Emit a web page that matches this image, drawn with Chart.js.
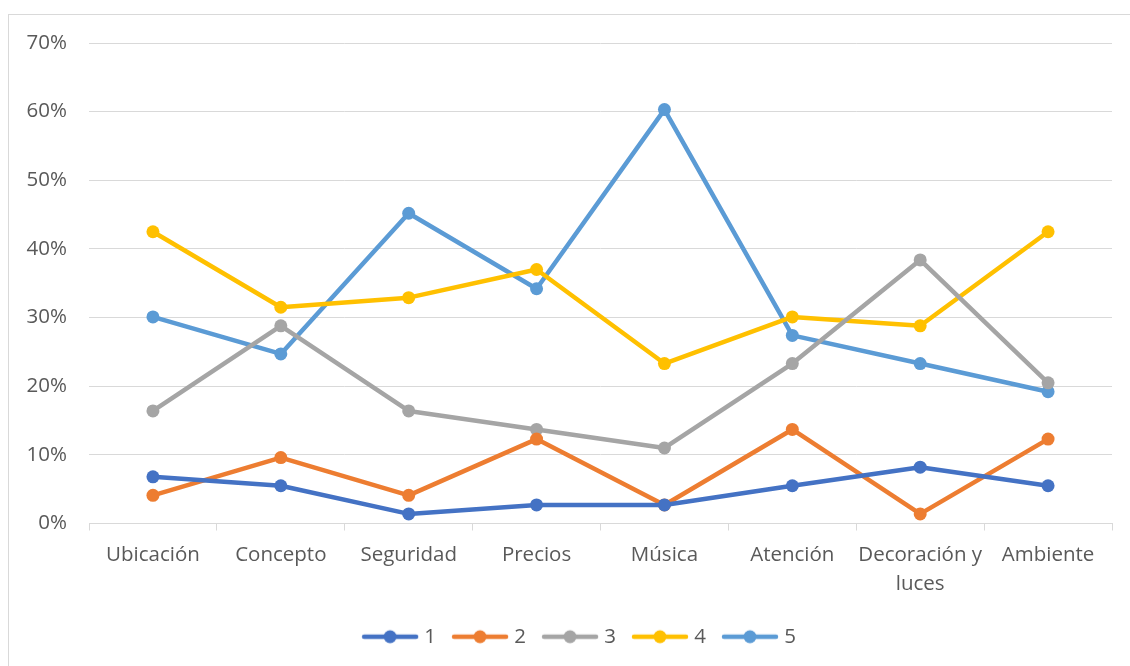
<!DOCTYPE html>
<html>
<head>
<meta charset="utf-8">
<script src="https://cdn.jsdelivr.net/npm/chart.js@4"></script>
<style>
html,body{margin:0;padding:0;background:#fff;}
#frame{position:absolute;left:8px;top:14px;width:1140px;height:680px;border:1px solid #d9d9d9;box-sizing:border-box;}
#wrap{position:absolute;left:0;top:0;width:1130px;height:666px;}
</style>
</head>
<body>
<div id="frame"></div>
<div id="wrap"><canvas id="c" width="1130" height="666"></canvas></div>
<script>
const categories = ['Ubicación','Concepto','Seguridad','Precios','Música','Atención',['Decoración y','luces'],'Ambiente'];
const seriesNames = ['1','2','3','4','5'];
const s1 = [6.8, 5.5, 1.4, 2.7, 2.7, 5.5, 8.2, 5.5];
const s2 = [4.1, 9.6, 4.1, 12.3, 2.7, 13.7, 1.4, 12.3];
const s3 = [16.4, 28.8, 16.4, 13.7, 11.0, 23.3, 38.4, 20.5];
const s4 = [42.5, 31.5, 32.9, 37.0, 23.3, 30.1, 28.8, 42.5];
const s5 = [30.1, 24.7, 45.2, 34.2, 60.3, 27.4, 23.3, 19.2];
const yTicks = [0,10,20,30,40,50,60,70];
const colors = ['#4472C4','#ED7D31','#A5A5A5','#FFC000','#5B9BD5'];

const FONT = 'Open Sans';
const TXT = '#595959';
const FS = 20.5;

function legendIcon(color){
  const cv = document.createElement('canvas');
  cv.width = 58; cv.height = 16;
  const g = cv.getContext('2d');
  g.strokeStyle = color; g.lineWidth = 4.5; g.lineCap = 'round';
  g.beginPath(); g.moveTo(3,8); g.lineTo(55,8); g.stroke();
  g.fillStyle = color; g.beginPath(); g.arc(29,8,6.5,0,Math.PI*2); g.fill();
  return cv;
}

const allSeries = [s1,s2,s3,s4,s5];
const datasets = allSeries.map((d,i)=>({
  label: seriesNames[i],
  data: d,
  borderColor: colors[i],
  backgroundColor: colors[i],
  borderWidth: 4.5,
  pointRadius: 6.5,
  pointHoverRadius: 6.5,
  pointBorderWidth: 0,
  pointStyle: 'circle',
  tension: 0,
  borderCapStyle: 'round',
  borderJoinStyle: 'round'
}));
const icons = colors.map(legendIcon);

const legendShift = {
  id: 'legendShift',
  afterLayout(chart){
    const lg = chart.legend;
    if (lg) { lg.left += 15; lg.right += 15; }
  }
};

new Chart(document.getElementById('c'), {
  type: 'line',
  data: { labels: categories, datasets },
  plugins: [legendShift],
  options: {
    responsive: false,
    animation: false,
    devicePixelRatio: 1,
    layout: { padding: { left: 20, right: 18, top: 43, bottom: 9 } },
    plugins: {
      tooltip: { enabled: false },
      legend: {
        position: 'bottom',
        labels: {
          color: TXT,
          font: { family: FONT, size: FS },
          usePointStyle: true,
          pointStyleWidth: 48,
          padding: 20,
          generateLabels: (chart) => chart.data.datasets.map((ds,i)=>({
            text: ds.label, fillStyle: ds.borderColor, strokeStyle: ds.borderColor,
            lineWidth: 0, pointStyle: icons[i], datasetIndex: i, fontColor: TXT
          }))
        }
      }
    },
    scales: {
      x: {
        offset: true,
        grid: { display: true, drawOnChartArea: false, drawTicks: true, tickLength: 7, color: '#d9d9d9', offset: true },
        border: { display: true, color: '#d9d9d9', width: 1 },
        ticks: { color: TXT, font: { family: FONT, size: FS, lineHeight: 1.42 }, maxRotation: 0, autoSkip: false, padding: 10 },
        afterFit: (s) => { s.height = 83; }
      },
      y: {
        min: 0, max: 70,
        afterBuildTicks: (s) => { s.ticks = yTicks.map(v=>({value:v})); },
        grid: { color: '#d9d9d9', lineWidth: 1, drawTicks: false },
        border: { display: false },
        ticks: { color: TXT, font: { family: FONT, size: FS }, padding: 22, callback: (v)=> v + '%' },
        afterFit: (s) => { s.width = 69; }
      }
    }
  }
});
</script>
</body>
</html>
